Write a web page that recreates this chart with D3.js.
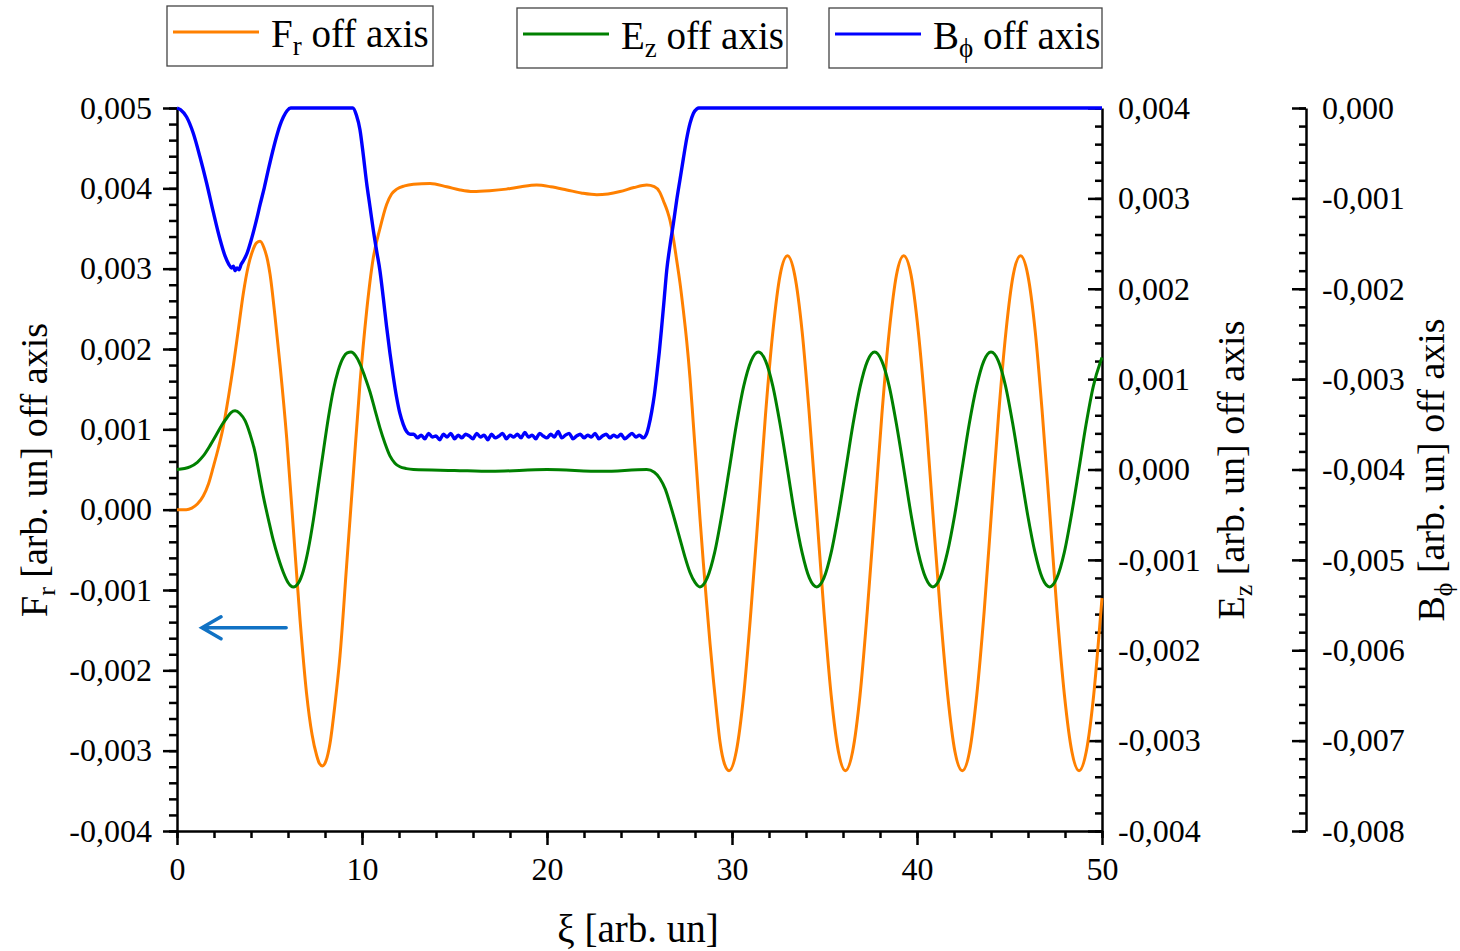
<!DOCTYPE html>
<html>
<head>
<meta charset="utf-8">
<script src="https://cdn.jsdelivr.net/npm/d3@7"></script>
<style>
  body { margin: 0; background: #fff; }
  text { font-family: "Liberation Serif", "Times New Roman", serif; fill: #000; }
</style>
</head>
<body>
<svg id="chart" width="1460" height="951"></svg>
<script>
// all field values are in units of 1e-3 arb. un
// [xi, value]
var frOffAxis = [
  [0,0],[0.5,0],[0.8,0.02],[1.1,0.07],[1.42,0.17],[1.7,0.32],[1.96,0.53],[2.25,0.78],[2.5,1.03],
  [2.78,1.40],[3.05,1.80],[3.32,2.25],[3.59,2.70],[3.85,3.03],[4.1,3.23],[4.3,3.32],[4.49,3.34],
  [4.7,3.26],[4.9,3.10],[5.03,2.93],[5.3,2.40],[5.57,1.80],[5.93,0.89],[6.29,-0.24],[6.65,-1.37],
  [7.0,-2.28],[7.3,-2.80],[7.55,-3.06],[7.7,-3.16],[7.86,-3.19],[8.05,-3.13],[8.27,-2.91],[8.55,-2.40],
  [8.81,-1.82],[9.17,-0.69],[9.53,0.44],[9.89,1.57],[10.25,2.47],[10.6,3.12],[10.97,3.50],[11.33,3.80],
  [11.6,3.93],[11.88,3.99],[12.3,4.03],[12.78,4.05],[13.68,4.06],[14.58,4.02],[15.3,3.98],[16.0,3.96],
  [16.9,3.97],[17.8,3.99],[18.6,4.02],[19.44,4.04],[20.2,4.02],[21.07,3.98],[21.9,3.94],[22.69,3.92],
  [23.3,3.93],[23.95,3.96],[24.7,4.01],[25.39,4.04],[25.8,4.02],[26.1,3.95],[26.3,3.84],[26.5,3.72],
  [26.65,3.60],[26.83,3.38],[27.0,3.12],[27.19,2.82],[27.37,2.48],[27.55,2.10],[27.73,1.64],[27.9,1.10],
  [28.08,0.52],[28.27,-0.11],[28.45,-0.66],[28.63,-1.17],[28.81,-1.66],[28.99,-2.11],[29.17,-2.52],
  [29.35,-2.89],[29.6,-3.17],[29.84,-3.25],
  [30.23,-3.01],[30.63,-2.31],[31.02,-1.27],[31.42,-0.05],[31.81,1.18],[32.21,2.22],[32.6,2.92],[33.0,3.16],
  [33.39,2.92],[33.79,2.22],[34.18,1.18],[34.58,-0.05],[34.97,-1.27],[35.36,-2.31],[35.75,-3.01],[36.13,-3.25],
  [36.52,-3.01],[36.92,-2.31],[37.31,-1.27],[37.71,-0.05],[38.1,1.18],[38.5,2.22],[38.89,2.92],[39.28,3.16],
  [39.68,2.92],[40.07,2.22],[40.47,1.18],[40.86,-0.05],[41.26,-1.27],[41.66,-2.31],[42.05,-3.01],[42.45,-3.25],
  [42.84,-3.01],[43.23,-2.31],[43.63,-1.27],[44.02,-0.05],[44.41,1.18],[44.81,2.22],[45.2,2.92],[45.6,3.16],
  [45.99,2.92],[46.39,2.22],[46.78,1.18],[47.18,-0.05],[47.57,-1.27],[47.97,-2.31],[48.37,-3.01],[48.76,-3.25],
  [49.15,-3.01],[49.55,-2.31],[49.94,-1.27],[50,-1.10]
];

var ezOffAxis = [
  [0,0],[0.7,0.03],[1.1,0.08],[1.42,0.15],[1.8,0.27],[2.14,0.39],[2.45,0.50],[2.69,0.57],[2.92,0.63],
  [3.14,0.65],[3.4,0.62],[3.68,0.54],[3.95,0.39],[4.22,0.19],[4.45,-0.06],[4.67,-0.30],[4.95,-0.56],
  [5.2,-0.78],[5.48,-0.98],[5.75,-1.14],[6.0,-1.25],[6.29,-1.30],[6.55,-1.26],[6.83,-1.12],[7.1,-0.88],
  [7.37,-0.56],[7.64,-0.18],[7.91,0.20],[8.18,0.57],[8.45,0.88],[8.72,1.10],[8.99,1.24],[9.2,1.29],
  [9.41,1.30],[9.65,1.26],[9.89,1.17],[10.15,1.03],[10.43,0.86],[10.7,0.66],[10.97,0.46],[11.24,0.29],
  [11.51,0.15],[11.78,0.07],[12.05,0.03],[12.4,0.01],[12.78,0],[15,-0.01],[17,-0.02],[20,0],[23,-0.02],
  [25.39,0],[25.8,-0.03],[26.1,-0.10],[26.4,-0.22],[26.65,-0.38],[26.92,-0.57],[27.19,-0.77],[27.46,-0.97],
  [27.73,-1.14],[28.0,-1.25],[28.27,-1.30],
  [28.66,-1.20],[29.06,-0.92],[29.45,-0.50],[29.85,0],[30.24,0.50],[30.63,0.92],[31.03,1.20],[31.42,1.30],
  [31.82,1.20],[32.21,0.92],[32.6,0.50],[33.0,0],[33.39,-0.50],[33.79,-0.92],[34.18,-1.20],[34.58,-1.30],
  [34.97,-1.20],[35.36,-0.92],[35.75,-0.50],[36.15,0],[36.54,0.50],[36.93,0.92],[37.32,1.20],[37.71,1.30],
  [38.1,1.20],[38.5,0.92],[38.89,0.50],[39.29,0],[39.68,-0.50],[40.07,-0.92],[40.47,-1.20],[40.86,-1.30],
  [41.25,-1.20],[41.64,-0.92],[42.04,-0.50],[42.43,0],[42.82,0.50],[43.22,0.92],[43.61,1.20],[44.0,1.30],
  [44.4,1.20],[44.79,0.92],[45.18,0.50],[45.58,0],[45.98,-0.50],[46.38,-0.92],[46.77,-1.20],[47.17,-1.30],
  [47.56,-1.20],[47.96,-0.92],[48.35,-0.50],[48.75,0],[49.14,0.50],[49.53,0.92],[49.93,1.20],[50,1.24]
];

// B_phi: smooth parts, the noisy flat bottom is kept apart
var bphiHead = [
  [0,0],[0.2,-0.02],[0.52,-0.10],[0.88,-0.28],[1.24,-0.54],[1.6,-0.83],[1.96,-1.15],[2.32,-1.45],
  [2.6,-1.64],[2.8,-1.73],[2.95,-1.77],[3.05,-1.75],[3.14,-1.80],[3.25,-1.77],[3.35,-1.79],[3.47,-1.73],
  [3.59,-1.69],[3.8,-1.60],[4.04,-1.44],[4.27,-1.26],[4.49,-1.07],[4.72,-0.88],[4.94,-0.68],[5.16,-0.49],
  [5.39,-0.31],[5.57,-0.19],[5.75,-0.10],[5.95,-0.03],[6.15,0],[9.5,0],[9.7,-0.08],[9.89,-0.24],
  [10.07,-0.52],[10.25,-0.83],[10.43,-1.09],[10.61,-1.35],[10.79,-1.58],[10.97,-1.80],[11.15,-2.10],
  [11.33,-2.42],[11.51,-2.71],[11.69,-2.97],[11.87,-3.20],[12.05,-3.38],[12.23,-3.50],[12.41,-3.58],[12.6,-3.61]
];
var bphiFloor = [
  -3.61,-3.65,-3.62,-3.66,-3.60,-3.64,-3.63,-3.67,-3.61,-3.64,-3.60,-3.66,-3.62,-3.65,-3.61,-3.63,
  -3.66,-3.60,-3.64,-3.62,-3.67,-3.61,-3.65,-3.63,-3.60,-3.66,-3.62,-3.64,-3.61,-3.65,-3.59,-3.64,
  -3.62,-3.66,-3.60,-3.63,-3.65,-3.61,-3.64,-3.58,-3.65,-3.62,-3.60,-3.66,-3.63,-3.61,-3.65,-3.62,
  -3.64,-3.60,-3.66,-3.63,-3.61,-3.65,-3.62,-3.64,-3.61,-3.66,-3.63,-3.60,-3.64,-3.62,-3.65
];
var bphiFloorFrom = 12.8, bphiFloorTo = 25.2;
var bphiTail = [
  [25.39,-3.60],[25.5,-3.52],[25.66,-3.36],[25.8,-3.18],[25.93,-2.96],[26.07,-2.70],[26.2,-2.42],
  [26.34,-2.10],[26.47,-1.80],[26.65,-1.52],[26.83,-1.28],[27.01,-1.02],[27.19,-0.79],[27.37,-0.56],
  [27.55,-0.34],[27.73,-0.17],[27.91,-0.06],[28.1,-0.01],[28.2,0],[50,0]
];

var xTicks = [0, 10, 20, 30, 40, 50];
var frTicks = [-4, -3, -2, -1, 0, 1, 2, 3, 4, 5];
var ezTicks = [-4, -3, -2, -1, 0, 1, 2, 3, 4];
var bphiTicks = [-8, -7, -6, -5, -4, -3, -2, -1, 0];

var series = [
  { key: "F", sub: "r", color: "#ff8000" },
  { key: "E", sub: "z", color: "#008000" },
  { key: "B", sub: "\u03d5", color: "#0000ff" }
];

var svg = d3.select("#chart");

var x = d3.scaleLinear().domain([0, 50]).range([177, 1102]);
var yF = d3.scaleLinear().domain([-4, 5]).range([831, 108]);
var yE = d3.scaleLinear().domain([-4, 4]).range([831, 108]);
var yB = d3.scaleLinear().domain([-8, 0]).range([831, 108]);

function fmt(v) { return (v / 1000).toFixed(3).replace(".", ","); }

/* axes: major ticks with labels, minor ticks without */
function styleAxis(g) {
  g.attr("font-family", null).attr("font-size", null);
  g.selectAll("path, line").attr("stroke", "#000").attr("stroke-width", 2.5);
  g.selectAll("text").style("font-size", "32px");
}
function addAxis(tr, major, minor) {
  var g = svg.append("g").attr("transform", tr);
  g.append("g").call(minor).call(function (s) { s.select(".domain").remove(); }).call(styleAxis);
  g.append("g").call(major).call(styleAxis);
}

addAxis("translate(177,0)",
  d3.axisLeft(yF).tickValues(frTicks).tickFormat(fmt).tickSize(14).tickSizeOuter(0).tickPadding(11),
  d3.axisLeft(yF).tickValues(d3.range(-4, 5.001, 0.2)).tickFormat("").tickSize(8));

addAxis("translate(1102,0)",
  d3.axisRight(yE).tickValues(ezTicks).tickFormat(fmt).tickSize(-14).tickSizeOuter(0).tickPadding(16),
  d3.axisRight(yE).tickValues(d3.range(-4, 4.001, 0.2)).tickFormat("").tickSize(-7));

addAxis("translate(1306,0)",
  d3.axisRight(yB).tickValues(bphiTicks).tickFormat(fmt).tickSize(-14).tickSizeOuter(0).tickPadding(16),
  d3.axisRight(yB).tickValues(d3.range(-8, 0.001, 0.2)).tickFormat("").tickSize(-7));

addAxis("translate(0,831)",
  d3.axisBottom(x).tickValues(xTicks).tickFormat(d3.format("d")).tickSize(14).tickSizeOuter(0).tickPadding(12),
  d3.axisBottom(x).tickValues(d3.range(0, 50.001, 2)).tickFormat("").tickSize(7));

/* curves */
var floorPts = bphiFloor.map(function (v, i) {
  return [bphiFloorFrom + i * (bphiFloorTo - bphiFloorFrom) / (bphiFloor.length - 1), v];
});
var bphiOffAxis = bphiHead.concat(floorPts, bphiTail);

function curve(data, y, color, w) {
  var line = d3.line()
    .x(function (d) { return x(d[0]); })
    .y(function (d) { return y(d[1]); })
    .curve(d3.curveMonotoneX);
  svg.append("path")
    .datum(data)
    .attr("d", line)
    .attr("fill", "none")
    .attr("stroke", color)
    .attr("stroke-width", w)
    .attr("stroke-linejoin", "round");
}
curve(frOffAxis, yF, series[0].color, 3);
curve(ezOffAxis, yE, series[1].color, 3);
curve(bphiOffAxis, yB, series[2].color, 3.4);

/* arrow pointing to the left axis */
var ax0 = x(1.35), ax1 = x(5.9), ay = yF(-1.47);
svg.append("path")
  .attr("d", "M" + ax1 + "," + ay + "L" + ax0 + "," + ay +
             "M" + (ax0 + 19) + "," + (ay - 11) + "L" + ax0 + "," + ay + "L" + (ax0 + 19) + "," + (ay + 11))
  .attr("fill", "none")
  .attr("stroke", "#1172c4")
  .attr("stroke-width", 3.5)
  .attr("stroke-linecap", "round");

/* axis titles */
function title(g, s) {
  var t = g.append("text").attr("text-anchor", "middle").style("font-size", "38px");
  t.append("tspan").text(s.key);
  t.append("tspan").attr("dy", 8).style("font-size", "26px").text(s.sub);
  t.append("tspan").attr("dy", -8).text(" [arb. un] off axis");
  return t;
}
title(svg.append("g").attr("transform", "translate(47,470) rotate(-90)"), series[0]);
title(svg.append("g").attr("transform", "translate(1244,470) rotate(-90)"), series[1]);
title(svg.append("g").attr("transform", "translate(1444,470) rotate(-90)"), series[2]);

svg.append("text")
  .attr("x", 638).attr("y", 942)
  .attr("text-anchor", "middle")
  .style("font-size", "39px")
  .text("\u03be [arb. un]");

/* legend: one framed box per series */
var boxes = [
  { x: 167, y: 6, w: 266 },
  { x: 517, y: 8, w: 270 },
  { x: 829, y: 8, w: 273 }
];
boxes.forEach(function (b, i) {
  var s = series[i];
  var g = svg.append("g").attr("transform", "translate(" + b.x + "," + b.y + ")");
  g.append("rect")
    .attr("width", b.w).attr("height", 60)
    .attr("fill", "#fff").attr("stroke", "#444").attr("stroke-width", 1.3);
  g.append("line")
    .attr("x1", 6).attr("x2", 92).attr("y1", 26).attr("y2", 26)
    .attr("stroke", s.color).attr("stroke-width", 3);
  var t = g.append("text").attr("x", 104).attr("y", 41).style("font-size", "39px");
  t.append("tspan").text(s.key);
  t.append("tspan").attr("dy", 8).style("font-size", "27px").text(s.sub);
  t.append("tspan").attr("dy", -8).text(" off axis");
});
</script>
</body>
</html>
